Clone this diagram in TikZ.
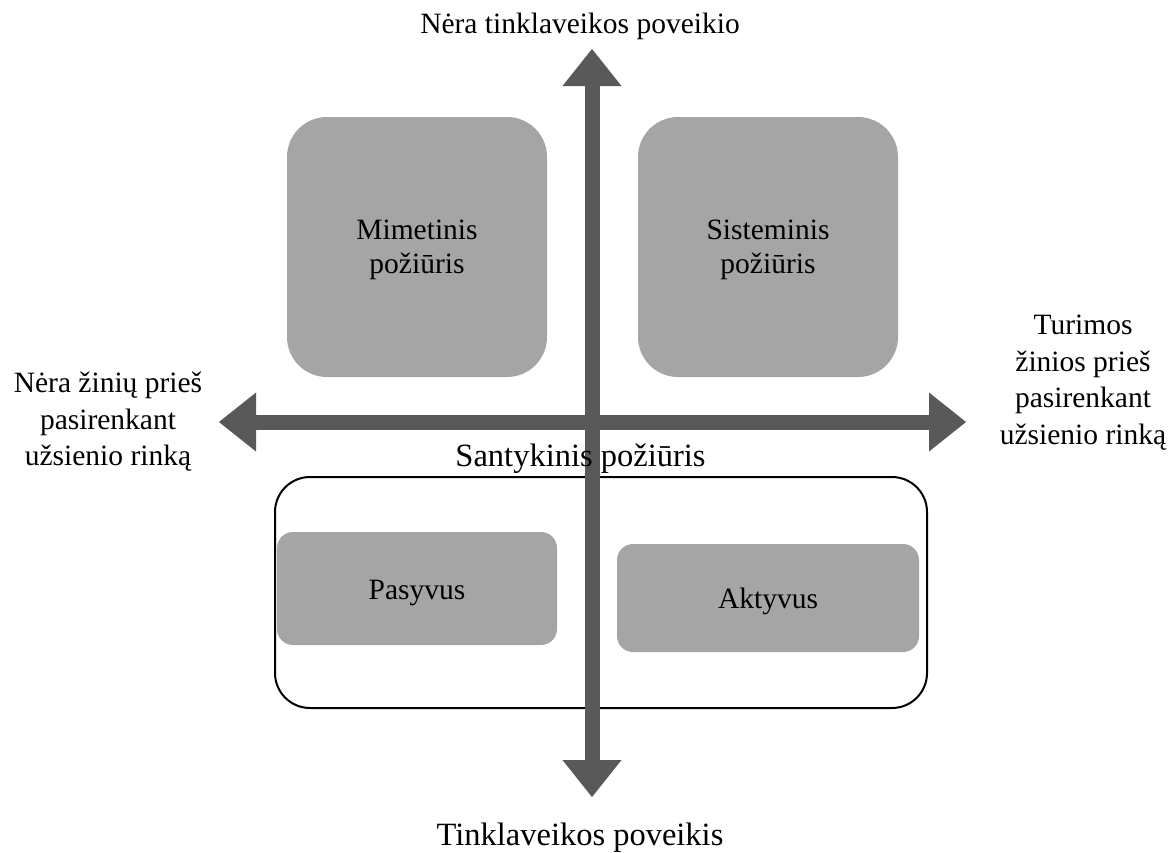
\documentclass[tikz,border=0pt]{standalone}
\usepackage{fontspec}
\setmainfont{Liberation Serif}
\usetikzlibrary{arrows.meta}
\definecolor{boxgray}{HTML}{A5A5A5}
\definecolor{axisgray}{HTML}{595959}
\newcommand\lblfont{\fontsize{29.5}{34}\selectfont}
\newcommand\biglblfont{\fontsize{32.5}{36}\selectfont}
\newcommand\sidefont{\fontsize{29.5}{36.5}\selectfont}
% invisible strut that lowers box captions slightly
\newcommand\capstrut[1]{\rule{0pt}{#1}}
\begin{document}
\begin{tikzpicture}[x=1pt,y=-1pt,
  quadbox/.style={fill=boxgray, rounded corners=40pt, inner sep=0pt,
    align=center, minimum width=260pt, minimum height=260pt, font=\lblfont},
  smallbox/.style={fill=boxgray, rounded corners=16pt, inner sep=0pt,
    align=center, font=\lblfont},
  groupbox/.style={draw=black, line width=2pt, rounded corners=35pt,
    inner sep=0pt},
  axislabel/.style={inner sep=0pt, font=\lblfont},
  sidelabel/.style={inner sep=0pt, align=center, font=\sidefont},
  axisarrow/.style={draw=axisgray, line width=15pt,
    {Triangle[width=59pt,length=37pt,line width=0pt]}-{Triangle[width=59pt,length=37pt,line width=0pt]}}
]
\useasboundingbox (0,0) rectangle (1174,852);

% upper quadrants
\node[quadbox] (mim) at (417,247) {\capstrut{26pt}Mimetinis\\požiūris};
\node[quadbox] (sis) at (768,247) {\capstrut{26pt}Sisteminis\\požiūris};

% relational approach group
\node[groupbox, minimum width=652pt, minimum height=231pt] (sant) at (601,592.5) {};
\node[smallbox, minimum width=280pt, minimum height=113pt] (pas) at (417,588.5) {\capstrut{27.5pt}Pasyvus};
\node[smallbox, minimum width=302pt, minimum height=108pt] (akt) at (768,598) {\capstrut{28pt}Aktyvus};

% axes
\coordinate (ntop) at (592,49);
\coordinate (nbot) at (592,797);
\coordinate (wleft) at (219,422);
\coordinate (eright) at (966,422);
\draw[axisarrow] (wleft) -- (eright);
\draw[axisarrow] (nbot) -- (ntop);

\node[axislabel, font=\biglblfont, anchor=base] (santlab) at (580.5,466) {Santykinis požiūris};

% axis end labels
\node[axislabel, anchor=base] (toplab) at (580,33) {Nėra tinklaveikos poveikio};
\node[axislabel, font=\biglblfont, anchor=base] (botlab) at (580,845) {Tinklaveikos poveikis};
\node[sidelabel, anchor=north] (leftlab) at (108,372) {Nėra žinių prieš\\pasirenkant\\užsienio rinką};
\node[sidelabel, anchor=north] (rightlab) at (1083,315) {Turimos\\žinios prieš\\pasirenkant\\užsienio rinką};
\end{tikzpicture}
\end{document}
